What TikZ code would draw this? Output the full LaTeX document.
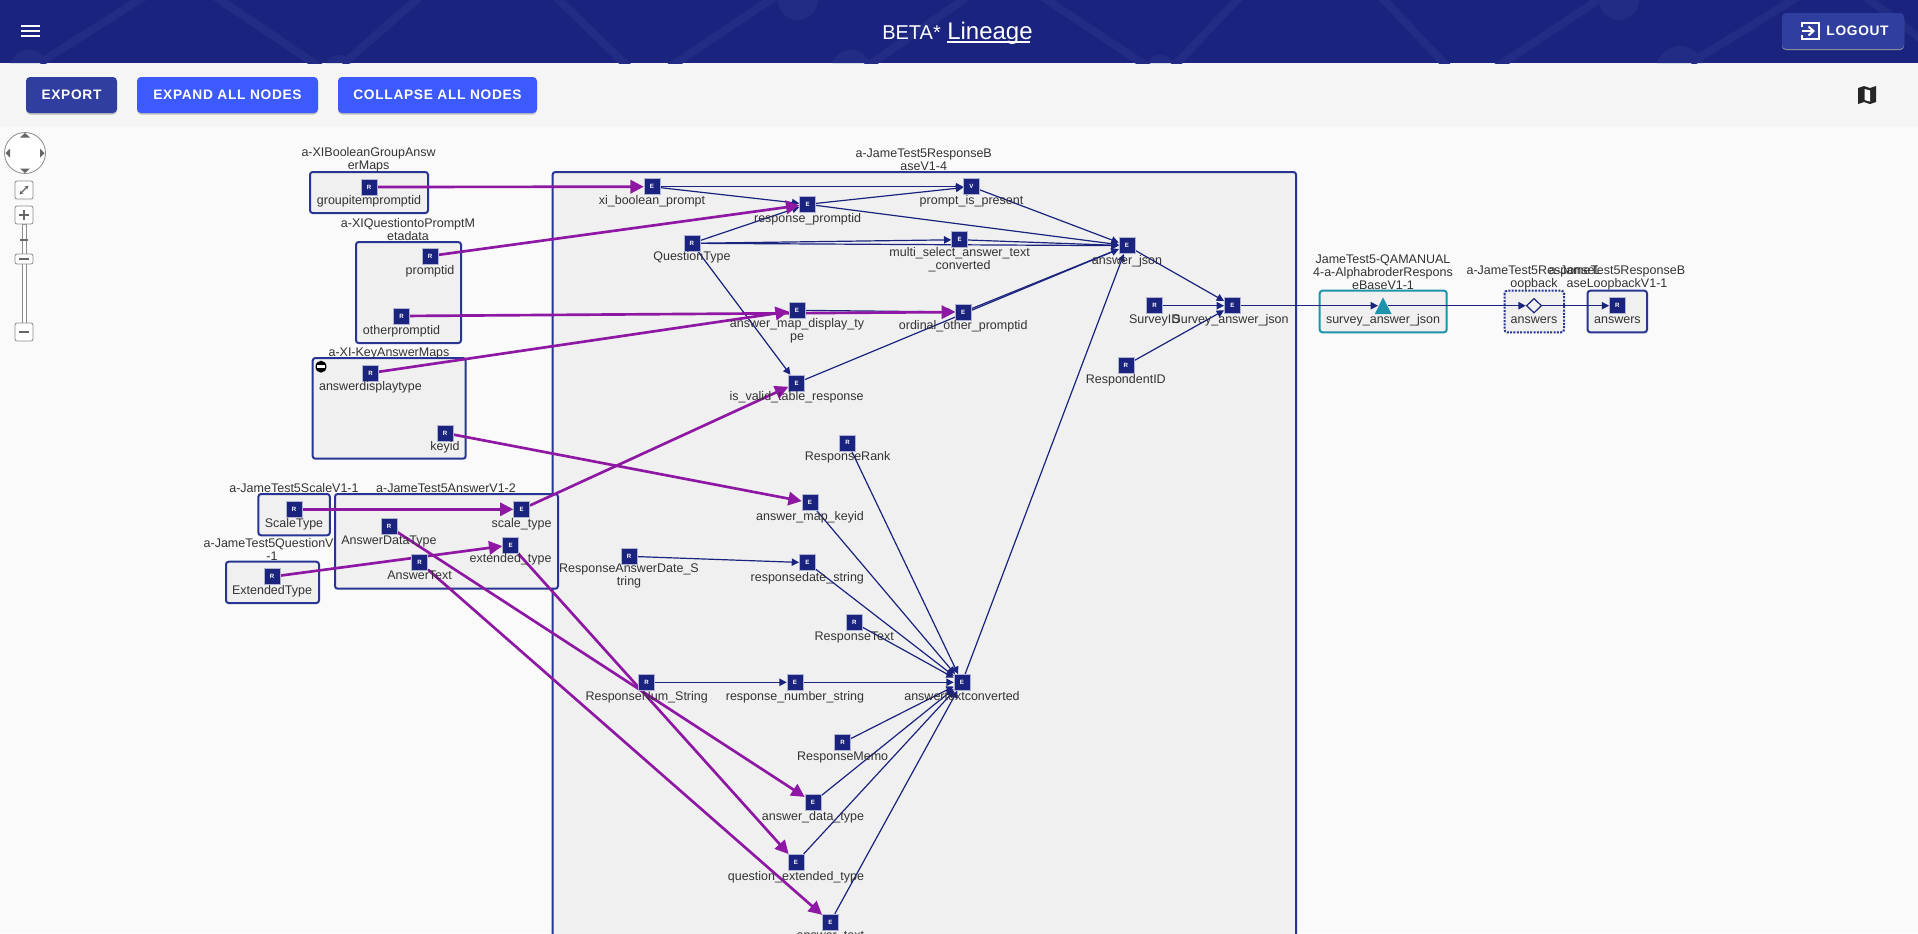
\documentclass[tikz,border=0pt]{standalone}
\usepackage{fontspec}
\setmainfont{Liberation Sans}
\newfontfamily\btnfont[LetterSpace=5]{Liberation Sans}
\usetikzlibrary{arrows.meta,shapes.geometric}
\pgfdeclarelayer{grplayer}
\pgfdeclarelayer{edgelayer}
\pgfsetlayers{grplayer,edgelayer,main}
\definecolor{navy}{HTML}{1A237E}
\definecolor{hdrline}{HTML}{232C84}
\definecolor{grpline}{HTML}{283593}
\definecolor{grpfill}{HTML}{F0F0F0}
\definecolor{purp}{HTML}{8E17A3}
\definecolor{tealc}{HTML}{1F93AB}
\definecolor{txt}{HTML}{333333}
\definecolor{btnA}{HTML}{303F9F}
\definecolor{btnB}{HTML}{3D5AFE}
\definecolor{ctl}{HTML}{666666}
\tikzset{
 gn/.style={draw=navy!35,line width=0.4pt,fill=navy,minimum size=12pt,inner sep=0pt,text=white,font=\fontsize{4.6}{5}\selectfont\bfseries},
 gl/.style={anchor=base,inner sep=0pt,text=txt,font=\fontsize{9.375}{9.75}\selectfont,align=center},
 gm/.style={anchor=center,inner sep=0pt,text=txt,font=\fontsize{9.375}{9.75}\selectfont,align=center},
 grpbox/.style={draw=grpline,line width=1.5pt,fill=grpfill,rounded corners=2pt},
 nv/.style={draw=navy,line width=0.9pt,-{Triangle[length=5.5pt,width=5.5pt]}},
 pu/.style={draw=purp,line width=2pt,-{Triangle[length=10pt,width=10pt]}},
 btn/.style={rounded corners=3pt},
 btntxt/.style={text=white,inner sep=0pt,font=\fontsize{10.3}{12}\btnfont\bfseries},
 ctlbtn/.style={draw=black!45,line width=0.6pt,fill=white,rounded corners=1.5pt},
 ctlmark/.style={draw=ctl,line width=1.5pt},
 hp/.style={draw=hdrline,line width=6pt,shorten >=-8pt,shorten <=-8pt},
}
\newcommand{\gnode}[4]{\node[gn] (#1) at (#2,#3) {#4};}
\newcommand{\glab}[4]{\node[gl] (#1-l) at (#2,{#3+5}) {#4};}
\newcommand{\gttl}[4]{\node[gm] (#1) at (#2,{#3+0.7}) {#4};}
\newcommand{\nve}[2]{\draw[nv] (#1) -- (#2);}
\newcommand{\pue}[2]{\draw[pu] (#1) -- (#2);}
\newcommand{\lobe}[3]{\fill[hdrline] ({#1-#3*cos(asin(7/#3))},63) arc[start angle={180+asin(7/#3)},end angle={360-asin(7/#3)},radius=#3] -- cycle;}
\begin{document}
\begin{tikzpicture}[x=0.75pt,y=-0.75pt]
\useasboundingbox (0,0) rectangle (1918,933);
\begin{pgfonlayer}{grplayer}
\fill[white!98!black] (0,0) rectangle (1918,933);
\fill[black!4] (0,63) rectangle (1918,127);
\fill[navy] (0,0) rectangle (1918,63);
% header pattern
\begin{scope}
\clip (0,0) rectangle (1918,63);
\draw[hp] (49,57)--(139,0);
\draw[hp] (220,0)--(314,63);
\draw[hp] (351,57)--(416,0);
\draw[hp] (559,0)--(624,63);
\draw[hp] (676,63)--(770,0);
\draw[hp] (872,63)--(963,0);
\draw[hp] (1047,0)--(1142,63);
\draw[hp] (1177,63)--(1237,0);
\draw[hp] (1384,0)--(1444,63);
\draw[hp] (1503,63)--(1598,0);
\draw[hp] (1700,57)--(1793,0);
\draw[hp] (1870,0)--(1918,37);
\lobe{29}{70}{20}
\lobe{339}{70}{15}
\fill[hdrline] (798,0) circle (20);
\lobe{851}{70}{20}
\lobe{1160}{70}{15}
\fill[hdrline] (1619,0) circle (20);
\lobe{1680}{70}{24}
\end{scope}
% hamburger
\foreach \yy in {25.7,31,36.3} \draw[white,line width=1.5pt] (21,\yy)--(40,\yy);
% buttons
\fill[black!25,btn] (26,79) rectangle (117,114.5);
\fill[btnA,btn] (26,77) rectangle (117,113);
\fill[black!25,btn] (137,79) rectangle (318,114.5);
\fill[btnB,btn] (137,77) rectangle (318,113);
\fill[black!25,btn] (338,79) rectangle (537,114.5);
\fill[btnB,btn] (338,77) rectangle (537,113);
\fill[black!40,btn] (1782,15) rectangle (1904,50);
\fill[btnA,btn] (1782,13) rectangle (1904,49);
% logout icon
\draw[white,line width=1.5pt] (1802,27)--(1802,23)--(1819,23)--(1819,39)--(1802,39)--(1802,35);
\draw[white,line width=1.5pt] (1802,31)--(1813,31);
\draw[white,line width=1.5pt] (1808.5,26.5)--(1813.5,31)--(1808.5,35.5);
% map icon
\fill[black!85] (1858,88)--(1864,86)--(1870,88)--(1876,86)--(1876,102)--(1870,104)--(1864,102)--(1858,104)--cycle;
\fill[white] (1864.5,89)--(1870,90.5)--(1870,101.5)--(1864.5,100)--cycle;
% zoom control
\draw[black!45,line width=0.6pt,fill=white] (25,153) circle (20.5);
\fill[ctl] (25,133)--(20,137.5)--(30,137.5)--cycle;
\fill[ctl] (25,173)--(20,168.5)--(30,168.5)--cycle;
\fill[ctl] (5.5,153)--(10,148.5)--(10,157.5)--cycle;
\fill[ctl] (44.5,153)--(40,148.5)--(40,157.5)--cycle;
\draw[ctlbtn] (15,181) rectangle (33,199);
\draw[ctl,line width=1pt,{Stealth[length=3pt,width=3pt]}-{Stealth[length=3pt,width=3pt]}] (19.5,194.5)--(28.5,185.5);
\draw[black!45,line width=0.6pt,fill=white] (22,224) rectangle (26,323);
\draw[ctlbtn] (15,206) rectangle (33,224);
\draw[ctlmark] (19,215)--(29,215) (24,210)--(24,220);
\draw[ctlmark] (20,240)--(28,240);
\draw[ctlbtn] (15,254) rectangle (33,264);
\draw[ctlmark] (19,259)--(29,259);
\draw[ctlbtn] (15,323) rectangle (33,341);
\draw[ctlmark] (19,332)--(29,332);
% group boxes
\draw[grpbox] (552.6,172) rectangle (1296,960);
\draw[grpbox] (310,172) rectangle (428,213);
\draw[grpbox] (356,242) rectangle (461,343);
\draw[grpbox] (312.7,358) rectangle (465.7,458.7);
\draw[grpbox] (258.4,494) rectangle (329.8,535.3);
\draw[grpbox] (335,494) rectangle (558,588.7);
\draw[grpbox] (226,561.7) rectangle (319,603);
\draw[grpbox,draw=tealc] (1319.7,290.7) rectangle (1446.7,332.3);
\draw[grpbox,densely dotted] (1504.5,290.7) rectangle (1564,332.3);
\draw[grpbox] (1587.6,290.7) rectangle (1647,332.3);
\fill[black] (321,366.7) ellipse (5.5 and 6);
\fill[white] (317,365.3) rectangle (325,367.8);
\end{pgfonlayer}
% texts of the page
\node[btntxt] (bexport) at (71.5,95) {EXPORT};
\node[btntxt] (bexpand) at (227.5,95) {EXPAND ALL NODES};
\node[btntxt] (bcollapse) at (437.5,95) {COLLAPSE ALL NODES};
\node[btntxt,anchor=center] (blogout) at (1857.5,31) {LOGOUT};
\node[anchor=base west,inner sep=0pt,text=white,font=\fontsize{15}{18}\selectfont] (tbeta) at (882,39.5) {BETA*};
\node[anchor=base west,inner sep=0pt,text=white,font=\fontsize{18}{20}\selectfont] (tlin) at (947,39.5) {Lineage};
\draw[white,line width=1.4pt] (tlin.base west)++(0,2.6) -- ++(83,0);
% titles
\gttl{t1}{368.6}{159.2}{a-XIBooleanGroupAnsw\\erMaps}
\gttl{t2}{408}{228.5}{a-XIQuestiontoPromptM\\etadata}
\glab{t3}{389}{351}{a-XI-KeyAnswerMaps}
\glab{t4}{294}{487.3}{a-JameTest5ScaleV1-1}
\glab{t5}{446}{487.3}{a-JameTest5AnswerV1-2}
\gttl{t6}{268.6}{548.7}{a-JameTest5QuestionV\\\hspace{5.1pt}-1}
\gttl{t7}{923.7}{159}{a-JameTest5ResponseB\\aseV1-4}
\gttl{t8}{1383}{271.3}{JameTest5-QAMANUAL\\4-a-AlphabroderRespons\\eBaseV1-1}
\gttl{t9}{1534}{277.6}{a-JameTest5ResponseL\\oopback}
\gttl{t10}{1617}{277.6}{a-JameTest5ResponseB\\aseLoopbackV1-1}
% columns
\gnode{gip}{369}{187}{R}\glab{gip}{369}{199.7}{groupitempromptid}
\gnode{pid}{430}{256}{R}\glab{pid}{430}{269}{promptid}
\gnode{opid}{401.5}{316}{R}\glab{opid}{401.5}{329}{otherpromptid}
\gnode{adt}{370.5}{373}{R}\glab{adt}{370.5}{385.7}{answerdisplaytype}
\gnode{kid}{445}{433}{R}\glab{kid}{445}{445.7}{keyid}
\gnode{sct}{294}{509.3}{R}\glab{sct}{294}{522.3}{ScaleType}
\gnode{sctE}{521.6}{509.3}{E}\glab{sctE}{521.6}{522.3}{scale\_type}
\gnode{adty}{389}{526.7}{R}\glab{adty}{389}{539.7}{AnswerDataType}
\gnode{extE}{510.6}{545}{E}\glab{extE}{510.6}{557.3}{extended\_type}
\gnode{atx}{419.6}{562.3}{R}\glab{atx}{419.6}{574.7}{AnswerText}
\gnode{ext}{272}{576.7}{R}\glab{ext}{272}{589.3}{ExtendedType}
\gnode{xib}{652}{186.7}{E}\glab{xib}{652}{199.7}{xi\_boolean\_prompt}
\gnode{rpp}{807.6}{204.3}{E}\glab{rpp}{807.6}{217.3}{response\_promptid}
\gnode{pip}{971.5}{186.7}{V}\glab{pip}{971.5}{199.7}{prompt\_is\_present}
\gnode{qt}{691.9}{243.3}{R}\glab{qt}{691.9}{255.7}{QuestionType}
\gnode{msa}{959.6}{239.7}{E}\gttl{msa-l}{959.6}{258.8}{multi\_select\_answer\_text\\\_converted}
\gnode{aj}{1127}{245.7}{E}\glab{aj}{1127}{259}{answer\_json}
\gnode{sid}{1154.7}{305.7}{R}\glab{sid}{1154.7}{318.3}{SurveyID}
\gnode{saj}{1232.3}{305.7}{E}\glab{saj}{1230.5}{318.3}{Survey\_answer\_json}
\gnode{amd}{797}{310.3}{E}\gttl{amd-l}{797}{330}{answer\_map\_display\_ty\\pe}
\gnode{oop}{963.2}{312}{E}\glab{oop}{963.2}{324.7}{ordinal\_other\_promptid}
\gnode{ivt}{796.6}{383}{E}\glab{ivt}{796.6}{395.7}{is\_valid\_table\_response}
\gnode{rid}{1125.8}{365.3}{R}\glab{rid}{1125.8}{378.3}{RespondentID}
\gnode{rrk}{847.7}{442.8}{R}\glab{rrk}{847.7}{455}{ResponseRank}
\gnode{amk}{810}{502.7}{E}\glab{amk}{810}{515.3}{answer\_map\_keyid}
\gnode{rad}{629}{556.3}{R}\gttl{rad-l}{629}{575.6}{ResponseAnswerDate\_S\\tring}
\gnode{rds}{807.3}{562.7}{E}\glab{rds}{807.3}{576}{responsedate\_string}
\gnode{rtx}{854.3}{622.7}{R}\glab{rtx}{854.3}{635}{ResponseText}
\gnode{rns}{646.7}{682.3}{R}\glab{rns}{646.7}{695.3}{ResponseNum\_String}
\gnode{rnb}{795}{682.3}{E}\glab{rnb}{795}{695.3}{response\_number\_string}
\gnode{atc}{962}{682.3}{E}\glab{atc}{962}{695.3}{answertextconverted}
\gnode{rmm}{842.7}{742.7}{R}\glab{rmm}{842.7}{755}{ResponseMemo}
\gnode{adE}{813}{802.3}{E}\glab{adE}{813}{815.3}{answer\_data\_type}
\gnode{qet}{796}{862.3}{E}\glab{qet}{796}{875}{question\_extended\_type}
\gnode{atE}{830.3}{922}{E}\glab{atE}{830.3}{934.5}{answer\_text}
\fill[tealc] (1383,297.3)--(1374.8,314)--(1391.6,314)--cycle;
\coordinate (triL) at (1378,305.7);
\coordinate (triR) at (1388,305.7);
\glab{tri}{1383}{318.7}{survey\_answer\_json}
\node[diamond,draw=navy,line width=0.9pt,fill=grpfill,inner sep=0pt,minimum width=11.5pt,minimum height=11pt] (dia) at (1534,305.7) {};
\glab{dia}{1534}{318.7}{answers}
\gnode{ans}{1617.4}{305.7}{R}\glab{ans}{1617.4}{318.7}{answers}
\begin{pgfonlayer}{edgelayer}
\nve{xib}{pip}\nve{xib}{rpp}\nve{rpp}{pip}\nve{rpp}{aj}
\nve{qt}{rpp}\nve{qt}{msa}\nve{qt}{aj}\nve{qt}{ivt}
\nve{msa}{aj}\nve{pip}{aj}\nve{amd}{oop}\nve{oop}{aj}\nve{ivt}{aj}\nve{atc}{aj}
\nve{aj}{saj}\nve{sid}{saj}\nve{rid}{saj}
\nve{saj}{triL}\nve{triR}{dia}\nve{dia}{ans}
\nve{rrk}{atc}\nve{amk}{atc}\nve{rds}{atc}\nve{rtx}{atc}\nve{rnb}{atc}\nve{rmm}{atc}\nve{adE}{atc}\nve{qet}{atc}\nve{atE}{atc}
\nve{rns}{rnb}\nve{rad}{rds}
\pue{gip}{xib}\pue{pid}{rpp}\pue{opid}{oop}\pue{adt}{amd}\pue{kid}{amk}
\pue{sct}{sctE}\pue{sctE}{ivt}\pue{ext}{extE}\pue{adty}{adE}\pue{atx}{atE}\pue{extE}{qet}
\end{pgfonlayer}
\end{tikzpicture}
\end{document}
